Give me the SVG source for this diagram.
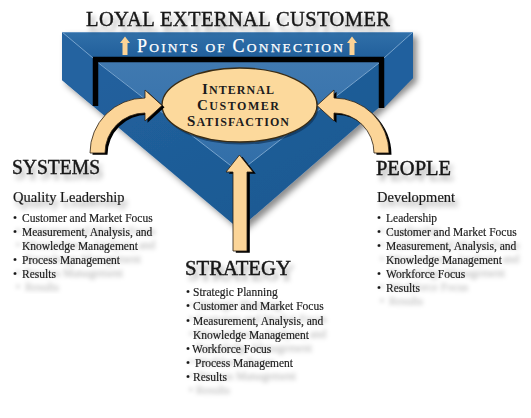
<svg xmlns="http://www.w3.org/2000/svg" width="531" height="418" viewBox="0 0 531 418">
<defs>
  <style>
    .serif { font-family: "Liberation Serif", "Times New Roman", serif; }
    .head { font-family: "Liberation Serif", "Times New Roman", serif; font-size: 20px; fill: #161616; stroke: #161616; stroke-width: 0.45; }
    .sub { font-family: "Liberation Serif", "Times New Roman", serif; font-size: 14.5px; fill: #1a1a1a; stroke: #1a1a1a; stroke-width: 0.2; }
    .body { font-family: "Liberation Serif", "Times New Roman", serif; font-size: 11.5px; fill: #181818; stroke: #181818; stroke-width: 0.15; }
    .ell { font-family: "Liberation Serif", "Times New Roman", serif; font-weight: bold; fill: #1c1c1c; text-anchor: middle; }
    .arrow { fill: #fcd598; stroke: #2a2014; stroke-width: 0.8; }
    .arrowsh { fill: #000; }
    .bevel { stroke: #8db4d8; stroke-width: 0.8; fill: none; }
  </style>
  <filter id="frameShadow" x="-10%" y="-10%" width="130%" height="130%">
    <feDropShadow dx="4" dy="4" stdDeviation="3" flood-color="#000" flood-opacity="0.45"/>
  </filter>
  <filter id="headShadow" x="-10%" y="-30%" width="130%" height="180%">
    <feDropShadow dx="3" dy="5" stdDeviation="2.5" flood-color="#000" flood-opacity="0.35"/>
  </filter>
  <filter id="bodyShadow" x="-10%" y="-10%" width="130%" height="130%">
    <feDropShadow dx="3" dy="13" stdDeviation="2.2" flood-color="#000" flood-opacity="0.28"/>
  </filter>
  <linearGradient id="topg" x1="0" y1="0" x2="0" y2="1">
    <stop offset="0" stop-color="#3170a9"/>
    <stop offset="1" stop-color="#215f9b"/>
  </linearGradient>
  <linearGradient id="floorg" x1="0" y1="0" x2="0" y2="1">
    <stop offset="0" stop-color="#4079b0"/>
    <stop offset="1" stop-color="#316ea8"/>
  </linearGradient>
  <linearGradient id="baseg" x1="0" y1="0" x2="1" y2="1">
    <stop offset="0" stop-color="#2362a0"/>
    <stop offset="1" stop-color="#1a578f"/>
  </linearGradient>
</defs>

<rect x="0" y="0" width="531" height="418" fill="#ffffff"/>

<!-- Frame node: Loyal External Customer / Points of Connection -->
<g id="loyal-external-customer">
  <g filter="url(#frameShadow)">
    <polygon points="62,32 413,32 413,78 239,229 62,80" fill="url(#baseg)"/>
  </g>
  <polygon points="62,32 93,58 93,106 62,80" fill="#2463a0"/>
  <polygon points="413,32 384,58 384,108 413,78" fill="#20609e"/>
  <polygon points="62,32 413,32 384,58 93,58" fill="url(#topg)"/>
  <polygon points="98,62 380,62 239,172" fill="url(#floorg)"/>
  <path d="M95.5,106 L95.5,59.5 L381.5,59.5 L381.5,108" fill="none" stroke="#000" stroke-width="5.5"/>
  <line class="bevel" x1="62" y1="32" x2="93" y2="58"/>
  <line class="bevel" x1="413" y1="32" x2="384" y2="58"/>
  <line class="bevel" x1="98.5" y1="63" x2="239" y2="172"/>
  <line class="bevel" x1="379" y1="63" x2="239" y2="172"/>
  <line x1="62" y1="32.5" x2="413" y2="32.5" stroke="#6e9cc8" stroke-width="0.8"/>
  <!-- small up arrows -->
  <path d="M122.5,55 L122.5,43 L120,43 L125,36.5 L130,43 L127.5,43 L127.5,55 Z" fill="#fcd396"/>
  <path d="M349.5,55 L349.5,43 L347,43 L352,36.5 L357,43 L354.5,43 L354.5,55 Z" fill="#fcd396"/>
  <text class="serif" x="137" y="52" font-size="13.5" fill="#ffffff" stroke="#ffffff" stroke-width="0.25" textLength="206" lengthAdjust="spacing"><tspan font-size="18">P</tspan>OINTS OF <tspan font-size="18">C</tspan>ONNECTION</text>
  <text class="serif" x="86" y="26" font-size="20.5" fill="#161616" stroke="#161616" stroke-width="0.4" textLength="304" lengthAdjust="spacing" filter="url(#headShadow)">LOYAL EXTERNAL CUSTOMER</text>
</g>

<!-- Central node -->
<g id="internal-customer-satisfaction">
  <ellipse cx="241" cy="107.5" rx="77.5" ry="37" fill="#0c2c4c" opacity="0.6"/>
  <ellipse cx="239.5" cy="105" rx="77.5" ry="37" fill="#fcd99c" stroke="#3a2c14" stroke-width="1.3"/>
  <text class="ell" x="238" y="94" font-size="12" textLength="72" lengthAdjust="spacing"><tspan font-size="15">I</tspan>NTERNAL</text>
  <text class="ell" x="238" y="110" font-size="12" textLength="82" lengthAdjust="spacing"><tspan font-size="15">C</tspan>USTOMER</text>
  <text class="ell" x="238" y="126" font-size="12" textLength="102" lengthAdjust="spacing"><tspan font-size="15">S</tspan>ATISFACTION</text>
</g>

<!-- Connectors -->
<g id="connectors">
  <path class="arrowsh" transform="translate(2.5,1.8)" d="M90,153 A55,55 0 0 1 145,98 L145,90 L162,105.5 L145,121 L145,113 A40,40 0 0 0 105,153 Z"/>
  <path class="arrow" d="M90,153 A55,55 0 0 1 145,98 L145,90 L162,105.5 L145,121 L145,113 A40,40 0 0 0 105,153 Z"/>
  <path class="arrowsh" transform="translate(2.5,1.8)" d="M389,153 A55,55 0 0 0 334,98 L334,90 L317,105.5 L334,121 L334,113 A40,40 0 0 1 374,153 Z"/>
  <path class="arrow" d="M389,153 A55,55 0 0 0 334,98 L334,90 L317,105.5 L334,121 L334,113 A40,40 0 0 1 374,153 Z"/>
  <path class="arrowsh" transform="translate(2.8,1.8)" d="M233,251 L233,172 L226,172 L239.5,155 L253,172 L247,172 L247,251 Z"/>
  <path class="arrow" d="M233,251 L233,172 L226,172 L239.5,155 L253,172 L247,172 L247,251 Z"/>
</g>

<!-- Systems -->
<g id="systems">
  <text class="head" x="12" y="174" textLength="88" lengthAdjust="spacingAndGlyphs" filter="url(#headShadow)">SYSTEMS</text>
  <text class="sub" x="13" y="202" filter="url(#headShadow)">Quality Leadership</text>
  <g class="body" filter="url(#bodyShadow)">
    <text x="13" y="222">•</text><text x="22" y="222">Customer and Market Focus</text>
    <text x="13" y="236">•</text><text x="22" y="236">Measurement, Analysis, and</text>
    <text x="22" y="250">Knowledge Management</text>
    <text x="13" y="264">•</text><text x="22" y="264">Process Management</text>
    <text x="13" y="278">•</text><text x="22" y="278">Results</text>
  </g>
</g>

<!-- People -->
<g id="people">
  <text class="head" x="376" y="175" textLength="75" lengthAdjust="spacingAndGlyphs" filter="url(#headShadow)">PEOPLE</text>
  <text class="sub" x="377" y="202" filter="url(#headShadow)">Development</text>
  <g class="body" filter="url(#bodyShadow)">
    <text x="377" y="222">•</text><text x="386" y="222">Leadership</text>
    <text x="377" y="236">•</text><text x="386" y="236">Customer and Market Focus</text>
    <text x="377" y="250">•</text><text x="386" y="250">Measurement, Analysis, and</text>
    <text x="386" y="264">Knowledge Management</text>
    <text x="377" y="278">•</text><text x="386" y="278">Workforce Focus</text>
    <text x="377" y="292">•</text><text x="386" y="292">Results</text>
  </g>
</g>

<!-- Strategy -->
<g id="strategy">
  <text class="head" x="185" y="275" font-size="21" textLength="106" lengthAdjust="spacingAndGlyphs" filter="url(#headShadow)">STRATEGY</text>
  <g class="body" filter="url(#bodyShadow)">
    <text x="186" y="296">•</text><text x="193" y="296">Strategic Planning</text>
    <text x="186" y="310">•</text><text x="193" y="310">Customer and Market Focus</text>
    <text x="186" y="324.5">•</text><text x="193" y="324.5">Measurement, Analysis, and</text>
    <text x="193" y="338.5">Knowledge Management</text>
    <text x="186" y="352.5">•</text><text x="192" y="352.5">Workforce Focus</text>
    <text x="186" y="367">•</text><text x="195" y="367">Process Management</text>
    <text x="186" y="381">•</text><text x="193" y="381">Results</text>
  </g>
</g>
</svg>
